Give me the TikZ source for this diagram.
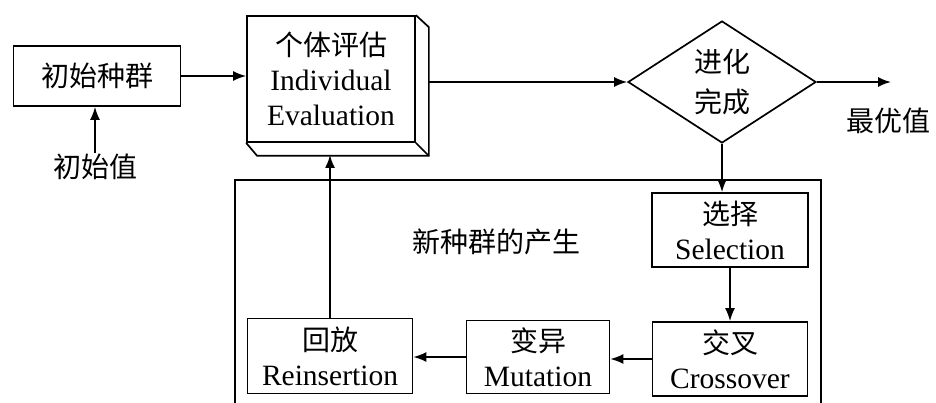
\documentclass[tikz,border=0pt]{standalone}
\usepackage{fontspec}
\setmainfont{Liberation Serif}
\newfontfamily\cjk{Noto Sans CJK SC}
\usetikzlibrary{shapes.geometric,arrows.meta}
\newcommand{\zhtxt}[1]{{\cjk\fontsize{28}{36}\selectfont #1}}
\begin{document}
\begin{tikzpicture}[x=1pt,y=-1pt,
  line width=1.7pt,
  every node/.style={font=\fontsize{29.5}{35}\selectfont},
  box/.style={draw, rectangle, inner sep=0pt, align=center},
  flow/.style={-{Latex[length=13pt,width=10pt]}},
  zh/.style={font=\fontsize{28}{36}\selectfont\cjk, inner sep=0pt}
]
\useasboundingbox (0,0) rectangle (936,403);

% initial population and its input
\node[box, zh, minimum width=167pt, minimum height=60pt] (init) at (97,76) {初始种群};
\node[zh] (initval) at (95,167) {初始值};

% individual evaluation, drawn as a raised block
\node[box, minimum width=168pt, minimum height=126pt] (ie) at (331,79)
  {\zhtxt{个体评估}\\Individual\\Evaluation};
\draw (ie.north east) -- ++(13,12) -- ([shift={(13,13)}]ie.south east)
      -- ([shift={(11,13)}]ie.south west) -- (ie.south west);
\draw (ie.south east) -- ++(13,13);
\coordinate (ieR) at (428,82);
\coordinate (ieB) at (330,155);

% termination test
\node[draw, diamond, aspect=1.5, inner sep=0pt, minimum width=188pt, minimum height=122pt,
      align=center, font=\fontsize{28}{40}\selectfont\cjk] (dia) at (722,82) {进化\\完成};
\coordinate (best) at (891,82);
\node[zh] (bestlbl) at (888,121) {最优值};

% generation of the new population
\draw (235,403) -- (235,180) -- (821,180) -- (821,403);
\node[zh] (grp) at (496,242) {新种群的产生};

\node[box, minimum width=156pt, minimum height=74pt] (sel) at (730,230)
  {\zhtxt{选择}\\Selection};
\node[box, minimum width=155pt, minimum height=74pt] (cro) at (730,359)
  {\zhtxt{交叉}\\Crossover};
\node[box, minimum width=143pt, minimum height=73pt] (mut) at (538,357)
  {\zhtxt{变异}\\Mutation};
\node[box, minimum width=165pt, minimum height=75pt] (rei) at (330,356)
  {\zhtxt{回放}\\Reinsertion};

% connectors
\draw[flow] (initval) -- (init.south -| initval);
\draw[flow] (init.east) -- (init.east -| ie.west);
\draw[flow] (ieR) -- (dia.west);
\draw[flow] (dia.east) -- (best);
\draw[flow] (dia.south) -- (dia.south |- sel.north);
\draw[flow] (sel.south) -- (cro.north);
\draw[flow] (cro.west) -- (cro.west -| mut.east);
\draw[flow] (mut.west) -- (mut.west -| rei.east);
\draw[flow] (rei.north -| ieB) -- (ieB);
\end{tikzpicture}
\end{document}
